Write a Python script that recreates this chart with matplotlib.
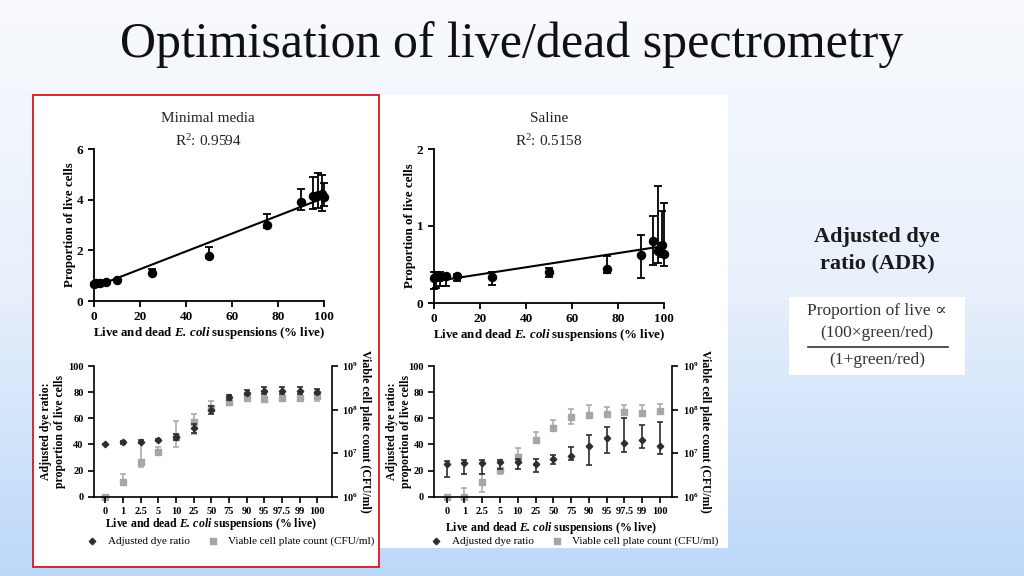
import numpy as np
import matplotlib
matplotlib.use('Agg')
import matplotlib.pyplot as plt
from matplotlib.patches import Rectangle
from matplotlib.colors import LinearSegmentedColormap

plt.rcParams['font.family'] = ['Liberation Serif', 'DejaVu Serif']
plt.rcParams['mathtext.fontset'] = 'custom'
plt.rcParams['mathtext.rm'] = 'Liberation Serif'
plt.rcParams['mathtext.it'] = 'Liberation Serif:italic'
plt.rcParams['mathtext.bf'] = 'Liberation Serif:bold'
plt.rcParams['mathtext.bfit'] = 'Liberation Serif:italic:bold'

# ---------------- data ----------------
pct_live = np.array([0, 1, 2.5, 5, 10, 25, 50, 75, 90, 95, 97.5, 99, 100])
cat_labels = ['0', '1', '2.5', '5', '10', '25', '50', '75', '90', '95', '97.5', '99', '100']

# Top: proportion of live cells (minimal media)
mm_prop = np.array([0.68, 0.70, 0.72, 0.75, 0.83, 1.12, 1.78, 2.99, 3.89, 4.15, 4.19, 4.23, 4.10])
mm_prop_lo = np.array([0.64, 0.66, 0.68, 0.71, 0.79, 1.05, 1.70, 2.87, 3.60, 3.64, 3.66, 3.57, 3.75])
mm_prop_hi = np.array([0.72, 0.74, 0.76, 0.79, 0.87, 1.28, 2.12, 3.44, 4.42, 4.91, 5.05, 4.99, 4.65])
mm_fit = [0.55, 0.0352]  # intercept, slope
mm_r2 = '0.9594'

# Top: proportion of live cells (saline)
sal_prop = np.array([0.33, 0.35, 0.34, 0.35, 0.35, 0.34, 0.40, 0.44, 0.62, 0.80, 0.68, 0.75, 0.64])
sal_prop_lo = np.array([0.18, 0.20, 0.22, 0.22, 0.28, 0.24, 0.34, 0.39, 0.32, 0.50, 0.52, 0.60, 0.48])
sal_prop_hi = np.array([0.40, 0.40, 0.40, 0.38, 0.38, 0.40, 0.46, 0.61, 0.88, 1.13, 1.52, 1.20, 1.30])
sal_fit = [0.28, 0.0046]
sal_r2 = '0.5158'

# Bottom: adjusted dye ratio (minimal media)
mm_adr = np.array([40.6, 41.6, 42.0, 43.1, 45.9, 52.3, 66.3, 76.0, 79.6, 81.1, 81.1, 81.1, 80.3])
mm_adr_err = np.array([0, 1, 1, 0.8, 2.3, 3.5, 3, 2, 2, 2.5, 2.5, 2.5, 2])
# Bottom: viable cell plate count (CFU/ml, minimal media)
mm_cfu = np.array([1.0e6, 2.2e6, 6.4e6, 1.05e7, 2.4e7, 5.3e7, 1.1e8, 1.47e8, 1.8e8, 1.77e8, 1.88e8, 1.88e8, 2.04e8])
mm_cfu_lo = np.array([1.0e6, 1.93e6, 4.7e6, 9.2e6, 1.41e7, 2.75e7, 9.5e7, 1.32e8, 1.64e8, 1.47e8, 1.69e8, 1.69e8, 1.6e8])
mm_cfu_hi = np.array([1.0e6, 3.3e6, 1.77e7, 1.41e7, 5.5e7, 8.0e7, 1.6e8, 1.62e8, 2.0e8, 2.04e8, 2.08e8, 2.08e8, 2.26e8])

# Bottom: adjusted dye ratio (saline)
sal_adr = np.array([24.8, 26.0, 25.5, 26.8, 26.8, 25.3, 28.6, 31.1, 38.8, 44.7, 40.8, 43.4, 39.0])
sal_adr_lo = np.array([15.3, 17.1, 17.6, 21.0, 21.2, 19.1, 25.3, 27.8, 24.3, 33.7, 34.0, 37.5, 32.7])
sal_adr_hi = np.array([27.3, 28.3, 28.3, 27.8, 29.1, 28.6, 31.9, 37.8, 47.2, 53.3, 60.5, 54.6, 56.9])
# Bottom: viable cell plate count (CFU/ml, saline)
sal_cfu = np.array([1.0e6, 1.0e6, 2.2e6, 4.1e6, 8.3e6, 2.0e7, 3.84e7, 6.9e7, 7.5e7, 8.0e7, 8.7e7, 8.3e7, 9.4e7])
sal_cfu_lo = np.array([1.0e6, 1.0e6, 1.3e6, 3.4e6, 6.6e6, 1.68e7, 3.2e7, 4.66e7, 6.3e7, 6.9e7, 7.5e7, 7.2e7, 8.0e7])
sal_cfu_hi = np.array([1.0e6, 1.56e6, 3.4e6, 4.6e6, 1.33e7, 3.1e7, 5.8e7, 1.02e8, 1.28e8, 1.17e8, 1.28e8, 1.28e8, 1.32e8])

# ---------------- layout helpers ----------------
W, H = 1024, 576
fig = plt.figure(figsize=(W / 100, H / 100), dpi=100)


def rect(l, t, r, b):
    return [l / W, 1 - b / H, (r - l) / W, (b - t) / H]


bg = fig.add_axes([0, 0, 1, 1], zorder=-10)
cmap = LinearSegmentedColormap.from_list('bgc', ['#f8fafd', '#e8f0fb', '#bcd8f9'])
bg.imshow(np.linspace(0, 1, 256)[:, None], aspect='auto', cmap=cmap,
          extent=[0, W, H, 0], interpolation='bicubic')
bg.set_xlim(0, W)
bg.set_ylim(H, 0)
bg.axis('off')

# panels
bg.add_patch(Rectangle((33, 95), 695, 453, fc='white', ec='none'))
bg.add_patch(Rectangle((33, 95), 346, 472, fc='white', ec='#d9262c', lw=1.4))
bg.add_patch(Rectangle((789, 297), 176, 78, fc='white', ec='none'))

bg.text(512, 45, 'Optimisation of live/dead spectrometry', ha='center', va='center',
        fontsize=36, color='#111111')
bg.text(877, 250, 'Adjusted dye\nratio (ADR)', ha='center', va='center', fontsize=16,
        fontweight='bold', color='#1a1a1a', linespacing=1.4)
bg.text(877, 311, 'Proportion of live \u221d', ha='center', va='center', fontsize=12.5, color='#333333')
bg.text(877, 333, '(100\u00d7green/red)', ha='center', va='center', fontsize=12.5, color='#333333')
bg.plot([808, 948], [347, 347], color='#333333', lw=1.2)
bg.text(877, 360, '(1+green/red)', ha='center', va='center', fontsize=12.5, color='#333333')

XLAB = r'Live and dead $\mathbfit{E.\,coli}$ suspensions (% live)'


def style_axis(ax, lw=1.3):
    for s in ['top', 'right']:
        ax.spines[s].set_visible(False)
    for s in ['left', 'bottom']:
        ax.spines[s].set_linewidth(lw)
    ax.tick_params(direction='out', length=4, width=lw)
    ax.patch.set_visible(False)


def top_panel(l, r, t, b, y, lo, hi, fit, ymax, yticks, title, r2, cx, ylab_x, xlab_y):
    ax = fig.add_axes(rect(l, t, r, b))
    ax.errorbar(pct_live, y, yerr=[y - lo, hi - y], fmt='o', color='black', ms=5.8,
                capsize=3, elinewidth=1.3, capthick=1.3, clip_on=False, zorder=3)
    xs = np.array([pct_live[0], pct_live[-1]])
    ax.plot(xs, fit[0] + fit[1] * xs, color='black', lw=1.5, clip_on=False)
    ax.set_xlim(0, 100)
    ax.set_ylim(0, ymax)
    ax.set_xticks([0, 20, 40, 60, 80, 100])
    ax.set_yticks(yticks)
    style_axis(ax)
    for lab in ax.get_xticklabels() + ax.get_yticklabels():
        lab.set_fontweight('bold')
        lab.set_fontsize(9.5)
    bg.text(cx, 118, title, ha='center', va='center', fontsize=11, color='#222222')
    bg.text(cx, 141, r'R$^{2}$: ' + r2, ha='center', va='center', fontsize=11, color='#222222')
    bg.text(ylab_x, (t + b) / 2, 'Proportion of live cells', rotation=90, ha='center',
            va='center', fontsize=9.3, fontweight='bold')
    bg.text((l + r) / 2, xlab_y, XLAB, ha='center', va='center', fontsize=9.3,
            fontweight='bold')
    return ax


top_panel(94, 324, 149, 301, mm_prop, mm_prop_lo, mm_prop_hi, mm_fit, 6, [0, 2, 4, 6],
          'Minimal media', mm_r2, 208, 70, 333)
top_panel(434, 664, 149, 303, sal_prop, sal_prop_lo, sal_prop_hi, sal_fit, 2, [0, 1, 2],
          'Saline', sal_r2, 549, 410, 335)


def bottom_panel(l, r, x0, x1, adr, adr_lo, adr_hi, cfu, cfu_lo, cfu_hi,
                 lab1_x, lab2_x, rlab_x, xlab_y, leg_x):
    t, b = 366, 496.7
    ax = fig.add_axes(rect(l, t, r, b))
    ax2 = ax.twinx()
    n = len(cat_labels)
    idx = np.arange(n)
    sp = (x1 - x0) / (n - 1)
    ax.set_xlim(-(x0 - l) / sp, n - 1 + (r - x1) / sp)
    ax.set_ylim(0, 100)
    ax2.set_yscale('log')
    ax2.set_ylim(1e6, 1e9)
    ax2.errorbar(idx, cfu, yerr=[cfu - cfu_lo, cfu_hi - cfu], fmt='s', color='#a6a6a6',
                 ms=5, capsize=2.5, elinewidth=1.1, capthick=1.1, clip_on=False)
    ax.errorbar(idx, adr, yerr=[adr - adr_lo, adr_hi - adr], fmt='D', color='#2e2e2e',
                ms=3.3, capsize=2.5, elinewidth=1.2, capthick=1.2, clip_on=False)
    ax.set_zorder(ax2.get_zorder() + 1)
    style_axis(ax, 1.2)
    ax2.patch.set_visible(False)
    for s in ['top', 'left', 'bottom']:
        ax2.spines[s].set_visible(False)
    ax2.spines['right'].set_linewidth(1.2)
    ax2.tick_params(which='major', direction='out', length=4, width=1.2)
    ax2.tick_params(which='minor', length=0)
    ax2.set_yticks([1e6, 1e7, 1e8, 1e9])
    ax2.set_yticklabels([r'$\mathbf{10^{6}}$', r'$\mathbf{10^{7}}$', r'$\mathbf{10^{8}}$',
                         r'$\mathbf{10^{9}}$'], fontsize=7.5)
    ax.set_xticks(idx)
    ax.set_xticklabels(cat_labels)
    ax.set_yticks([0, 20, 40, 60, 80, 100])
    for lab in ax.get_xticklabels() + ax.get_yticklabels():
        lab.set_fontweight('bold')
        lab.set_fontsize(7.5)
    bg.text(lab1_x, (t + b) / 2, 'Adjusted dye ratio:', rotation=90, ha='center', va='center',
            fontsize=8.5, fontweight='bold')
    bg.text(lab2_x, (t + b) / 2, 'proportion of live cells', rotation=90, ha='center',
            va='center', fontsize=8.5, fontweight='bold')
    bg.text(rlab_x, 431, 'Viable cell plate count (CFU/ml)', rotation=-90, ha='center',
            va='center', fontsize=8.5, fontweight='bold')
    bg.text((l + r) / 2 - 2, xlab_y, XLAB, ha='center', va='center', fontsize=8.5,
            fontweight='bold')
    # legend
    bg.plot([leg_x], [541], marker='D', ms=3.3, color='#2e2e2e', ls='none')
    bg.text(leg_x + 16, 541, 'Adjusted dye ratio', ha='left', va='center', fontsize=8)
    bg.plot([leg_x + 121], [541], marker='s', ms=5, color='#a6a6a6', ls='none')
    bg.text(leg_x + 136, 541, 'Viable cell plate count (CFU/ml)', ha='left', va='center',
            fontsize=8)
    return ax


bottom_panel(94, 332, 105.3, 317.3, mm_adr, mm_adr - mm_adr_err, mm_adr + mm_adr_err,
             mm_cfu, mm_cfu_lo, mm_cfu_hi, 46, 60, 365, 524, 92)
bottom_panel(434.3, 672.3, 446.7, 660, sal_adr, sal_adr_lo, sal_adr_hi,
             sal_cfu, sal_cfu_lo, sal_cfu_hi, 392, 406, 705, 528, 436)

fig.savefig('out.png', dpi=100)
